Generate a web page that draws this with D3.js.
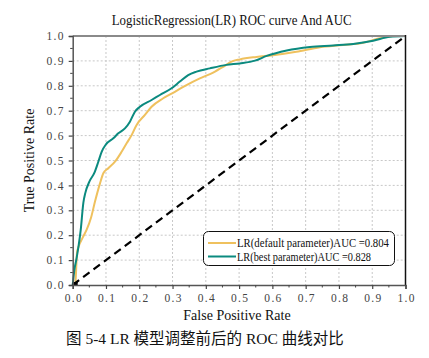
<!DOCTYPE html>
<html><head><meta charset="utf-8">
<script src="https://cdn.jsdelivr.net/npm/d3@7"></script>
<style>body{margin:0;background:#fff}svg{display:block}</style>
</head><body>
<svg id="c" width="429" height="358"></svg>
<script>
const fprDefault = [0, 0.008, 0.013, 0.018, 0.03, 0.042, 0.055, 0.067, 0.082, 0.092, 0.107, 0.127, 0.147, 0.162, 0.177, 0.192, 0.217, 0.237, 0.272, 0.307, 0.342, 0.382, 0.422, 0.452, 0.477, 0.502, 0.552, 0.602, 0.672, 0.743, 0.813, 0.873, 0.923, 0.963, 1.0];
const tprDefault = [0, 0.01, 0.13, 0.155, 0.19, 0.222, 0.27, 0.335, 0.408, 0.449, 0.469, 0.495, 0.535, 0.569, 0.602, 0.643, 0.683, 0.716, 0.75, 0.776, 0.803, 0.83, 0.853, 0.876, 0.897, 0.906, 0.916, 0.923, 0.937, 0.955, 0.964, 0.973, 0.991, 1.0, 1.0];
const fprBest = [0, 0.005, 0.012, 0.018, 0.024, 0.032, 0.038, 0.05, 0.065, 0.077, 0.087, 0.1, 0.122, 0.137, 0.157, 0.172, 0.187, 0.202, 0.237, 0.262, 0.297, 0.322, 0.347, 0.372, 0.412, 0.462, 0.502, 0.548, 0.583, 0.643, 0.713, 0.783, 0.843, 0.903, 0.953, 1.0];
const tprBest = [0, 0.06, 0.11, 0.16, 0.22, 0.33, 0.37, 0.415, 0.45, 0.495, 0.535, 0.565, 0.589, 0.609, 0.629, 0.656, 0.696, 0.716, 0.743, 0.763, 0.79, 0.817, 0.843, 0.857, 0.87, 0.884, 0.89, 0.901, 0.92, 0.942, 0.956, 0.962, 0.968, 0.981, 0.997, 1.0];
const seriesNames = ["LR(default parameter)AUC =0.804", "LR(best parameter)AUC =0.828"];
const seriesColors = ["#EFC15E", "#0B8A7F"];
const xTicks = [0,0.1,0.2,0.3,0.4,0.5,0.6,0.7,0.8,0.9,1.0];
const yTicks = [0,0.1,0.2,0.3,0.4,0.5,0.6,0.7,0.8,0.9,1.0];
const minorTicks = [0.05,0.15,0.25,0.35,0.45,0.55,0.65,0.75,0.85,0.95];
const titleText = "LogisticRegression(LR) ROC curve And AUC";
const xTitle = "False Positive Rate";
const yTitle = "True Positive Rate";
const captionText = "图 5-4 LR 模型调整前后的 ROC 曲线对比";

const svg = d3.select("#c");
const L = 72.7, R = 405.5, T = 36, B = 285;
const x = d3.scaleLinear().domain([0,1]).range([L,R]);
const y = d3.scaleLinear().domain([0,1]).range([B,T]);
const serif = "'Liberation Serif','DejaVu Serif',serif";

// grid
const g = svg.append("g");
g.selectAll("line.gx").data(xTicks.slice(1,-1)).join("line")
  .attr("x1",d=>x(d)).attr("x2",d=>x(d)).attr("y1",T).attr("y2",B)
  .attr("stroke","#c8c8c8").attr("stroke-width",1).attr("stroke-dasharray","2,2");
g.selectAll("line.gy").data(yTicks.slice(1,-1)).join("line")
  .attr("y1",d=>y(d)).attr("y2",d=>y(d)).attr("x1",L).attr("x2",R)
  .attr("stroke","#c8c8c8").attr("stroke-width",1).attr("stroke-dasharray","2,2");

// curves
const line = d3.line().x(d=>x(d[0])).y(d=>y(d[1])).curve(d3.curveMonotoneX);
const dataDefault = fprDefault.map((f,i)=>[f,tprDefault[i]]);
const dataBest = fprBest.map((f,i)=>[f,tprBest[i]]);
svg.append("path").datum(dataDefault).attr("d",line).attr("fill","none")
  .attr("stroke",seriesColors[0]).attr("stroke-width",2);
svg.append("path").datum(dataBest).attr("d",line).attr("fill","none")
  .attr("stroke",seriesColors[1]).attr("stroke-width",2);

// diagonal
svg.append("line").attr("x1",x(0)).attr("y1",y(0)).attr("x2",x(1)).attr("y2",y(1))
  .attr("stroke","#000").attr("stroke-width",2.2).attr("stroke-dasharray","8,5");
svg.append("rect").attr("x",x(0)).attr("y",y(0)-3).attr("width",5).attr("height",3).attr("fill","#000");

// frame
svg.append("line").attr("x1",L).attr("x2",R).attr("y1",T).attr("y2",T).attr("stroke","#8a8a8a").attr("stroke-width",2);
svg.append("line").attr("x1",R).attr("x2",R).attr("y1",T-1).attr("y2",B).attr("stroke","#111").attr("stroke-width",1.5);

// axes
const xAxis = d3.axisBottom(x).tickValues(xTicks).tickSize(4).tickPadding(5).tickFormat(d3.format(".1f"));
const xa = svg.append("g").attr("transform",`translate(0,${B})`).call(xAxis);
const yAxis = d3.axisLeft(y).tickValues(yTicks).tickSize(4).tickPadding(4).tickFormat(d3.format(".1f"));
const ya = svg.append("g").attr("transform",`translate(${L},0)`).call(yAxis);
[xa,ya].forEach(a=>{
  a.select(".domain").attr("stroke","#555").attr("stroke-width",1.5);
  a.selectAll(".tick line").attr("stroke","#444").attr("stroke-width",1.2);
  a.selectAll(".tick text").attr("font-family",serif).attr("font-size",11.5)
    .attr("fill","#444").style("letter-spacing","1.3px");
});
xa.selectAll(".tick text").attr("dx","0.6px");
svg.append("g").selectAll("line").data(minorTicks).join("line")
  .attr("x1",d=>x(d)).attr("x2",d=>x(d)).attr("y1",B).attr("y2",B+2.5)
  .attr("stroke","#444").attr("stroke-width",1);
svg.append("g").selectAll("line").data(minorTicks).join("line")
  .attr("y1",d=>y(d)).attr("y2",d=>y(d)).attr("x1",L).attr("x2",L-2.5)
  .attr("stroke","#444").attr("stroke-width",1);

// titles
svg.append("text").attr("x",231.7).attr("y",25).attr("text-anchor","middle")
  .attr("font-family",serif).attr("font-size",14).attr("fill","#111")
  .attr("textLength",240).attr("lengthAdjust","spacingAndGlyphs").text(titleText);
svg.append("text").attr("x",237).attr("y",320).attr("text-anchor","middle")
  .attr("font-family",serif).attr("font-size",14).attr("fill","#111").text(xTitle);
svg.append("text").attr("transform",`translate(34,${(T+B)/2}) rotate(-90)`).attr("text-anchor","middle")
  .attr("font-family",serif).attr("font-size",14).attr("fill","#111").text(yTitle);

// legend
const lg = svg.append("g");
lg.append("rect").attr("x",203.5).attr("y",231.5).attr("width",191).attr("height",34).attr("rx",5)
  .attr("fill","#fff").attr("stroke","#111").attr("stroke-width",1);
seriesNames.forEach((n,i)=>{
  const yy = 243 + i*13.5;
  lg.append("line").attr("x1",208).attr("x2",236).attr("y1",yy).attr("y2",yy)
    .attr("stroke",seriesColors[i]).attr("stroke-width",2);
  lg.append("text").attr("x",237).attr("y",yy+4).attr("font-family",serif).attr("font-size",12)
    .attr("fill","#111").attr("textLength",i===0?152:134).attr("lengthAdjust","spacingAndGlyphs").text(n);
});

// caption
svg.append("text").attr("x",66).attr("y",344).attr("font-size",15.5)
  .attr("font-family","'Liberation Serif','Noto Sans CJK SC',serif").attr("fill","#111").text(captionText);
</script>
</body></html>
